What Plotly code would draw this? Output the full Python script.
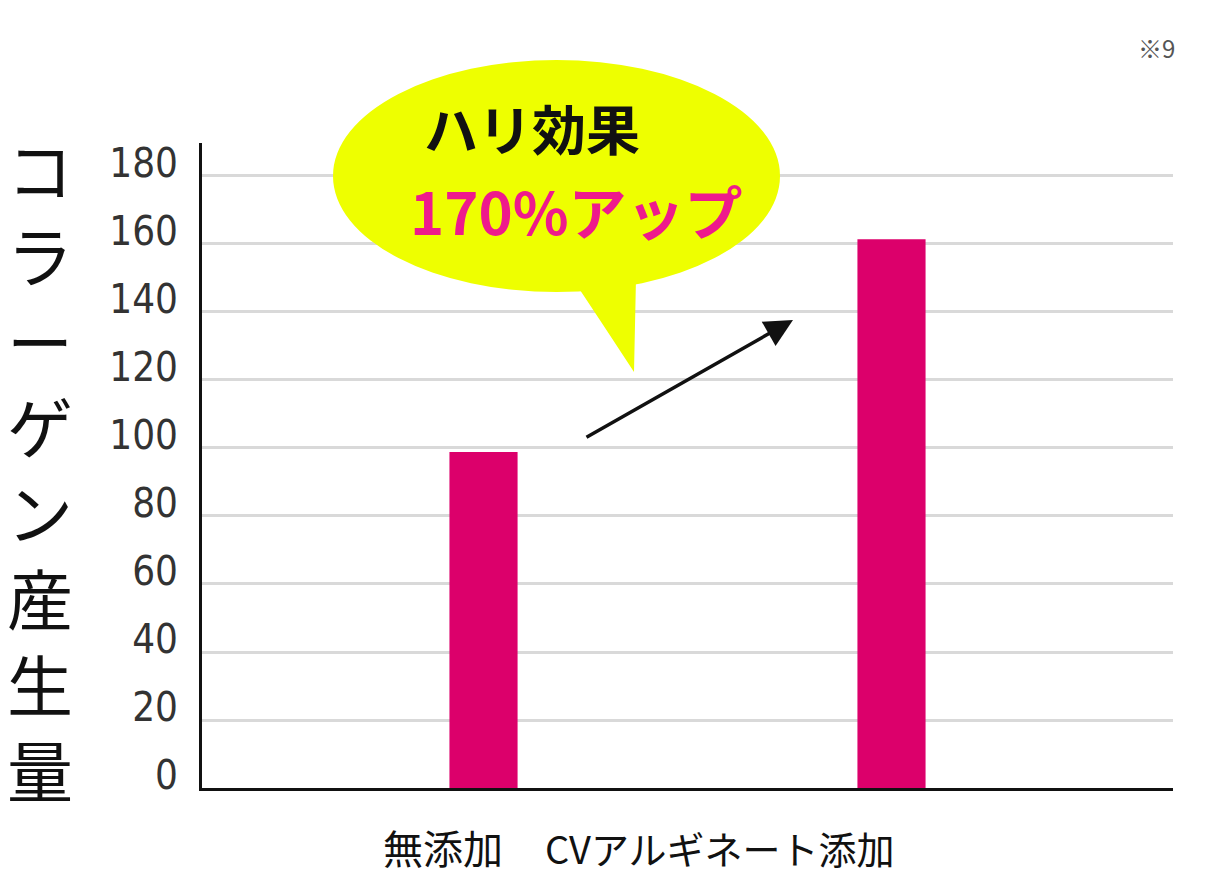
import plotly.graph_objects as go

# ── Data ─────────────────────────────────────────────────────────────────────
categories = ["無添加", "CVアルギネート添加"]
collagen = [98.8, 161.4]
y_ticks = [0, 20, 40, 60, 80, 100, 120, 140, 160, 180]

PINK = "#DC006B"
YELLOW = "#EEFF00"
CJK = "Noto Sans CJK JP"

# page is 1211x889; the body keeps its default 8px margin
W, H, OFF = 1211, 889, 8
L, R, T, B = 202, 38, 143, 101  # plot area edges in page pixels


def px(x):
    return (x - L) / (W - L - R)


def py(y):
    return (H - B - y) / (H - T - B)


fig = go.Figure()
fig.add_bar(
    x=[0, 1],
    y=collagen,
    width=0.167,
    marker=dict(color=PINK, line=dict(width=0)),
    hoverinfo="skip",
)

# speech bubble
fig.add_shape(
    type="circle", xref="paper", yref="paper",
    x0=px(333), x1=px(780), y0=py(292), y1=py(60),
    fillcolor=YELLOW, line=dict(width=0), layer="above",
)
fig.add_shape(
    type="path", xref="paper", yref="paper",
    path=f"M {px(572)} {py(278)} Q {px(600)} {py(320)} {px(634)} {py(372)} "
         f"L {px(636)} {py(278)} Z",
    fillcolor=YELLOW, line=dict(width=0), layer="above",
)

annotations = [
    dict(text="<b>ハリ効果</b>", x=px(532), y=py(128),
         font=dict(family=CJK, size=54, color="#111111")),
    dict(text="<b>170%アップ</b>", x=px(576), y=py(210),
         font=dict(family=CJK, size=58, color="#EE1A8C")),
    dict(text=categories[0], x=px(443), y=py(847),
         font=dict(family=CJK, size=40, color="#111111")),
    dict(text=categories[1], x=px(720), y=py(847),
         font=dict(family=CJK, size=38, color="#111111")),
    dict(text="<br>".join("コラーゲン産生量"), x=px(40), y=py(467),
         font=dict(family=CJK, size=66, color="#111111")),
    dict(text="※9", x=px(1156), y=py(47),
         font=dict(family=CJK, size=24, color="#555555")),
]
for a in annotations:
    a.update(xref="paper", yref="paper", showarrow=False,
             xanchor="center", yanchor="middle")

# arrow between the bars
annotations.append(dict(
    xref="paper", yref="paper", x=px(793), y=py(320),
    ax=585 - 793, ay=438 - 320, text="", showarrow=True,
    arrowhead=2, arrowsize=1.6, arrowwidth=3.5, arrowcolor="#111111",
))

fig.update_layout(
    width=W - 2 * OFF,
    height=H - 2 * OFF,
    margin=dict(l=L - OFF, r=R - OFF, t=T - OFF, b=B - OFF),
    paper_bgcolor="white",
    plot_bgcolor="white",
    showlegend=False,
    annotations=annotations,
    xaxis=dict(
        range=[-0.69, 1.69],
        showticklabels=False,
        showgrid=False,
        zeroline=False,
        showline=True,
        linecolor="#111111",
        linewidth=3,
        ticks="",
    ),
    yaxis=dict(
        range=[0, 189.7],
        tickvals=y_ticks,
        tickfont=dict(family="Liberation Sans Narrow, DejaVu Sans Condensed, Roboto",
                      size=40, color="#333333"),
        ticklabelstandoff=13,
        ticklabelshift=-13,
        showgrid=True,
        gridcolor="#D9D9D9",
        gridwidth=2.5,
        zeroline=False,
        showline=True,
        linecolor="#111111",
        linewidth=3,
        ticks="",
    ),
)

fig.write_html("out.html")
